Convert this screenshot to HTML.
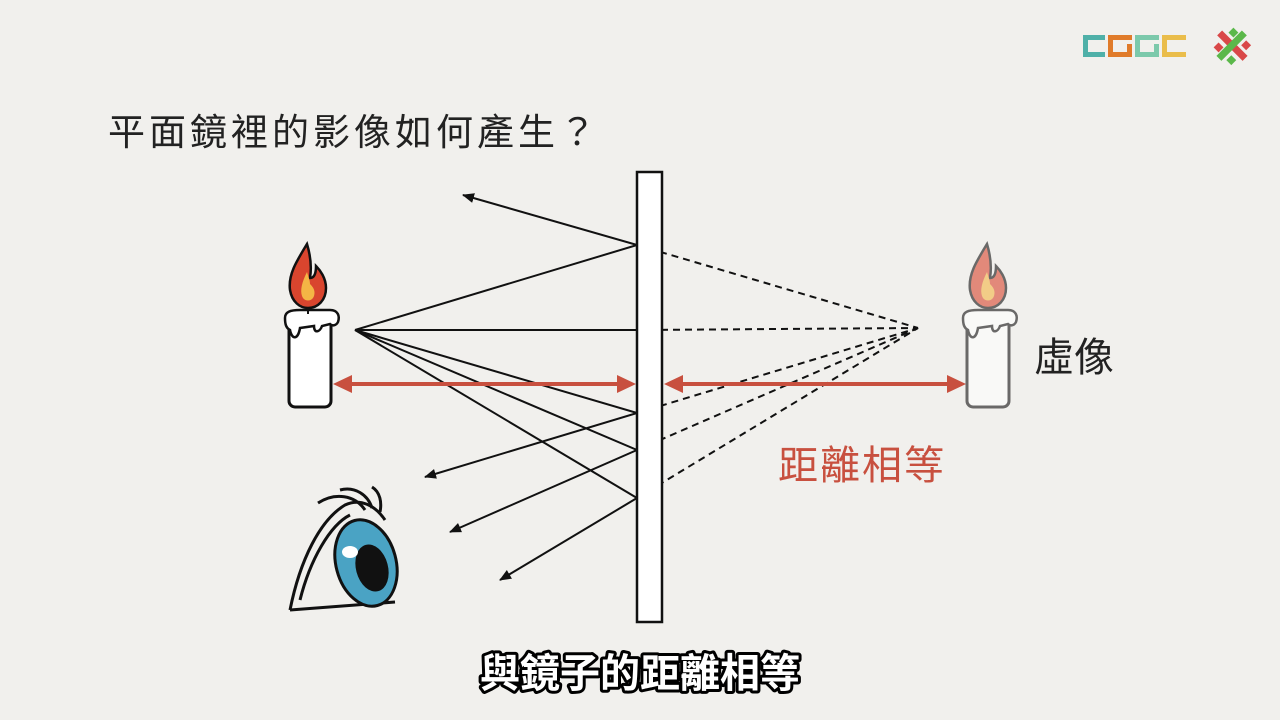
<!DOCTYPE html>
<html><head><meta charset="utf-8"><style>
html,body{margin:0;padding:0;background:#f1f0ed;}
svg{display:block}
text{font-family:"Liberation Sans","Noto Sans CJK TC",sans-serif}
</style></head><body>
<svg width="1280" height="720" viewBox="0 0 1280 720" xmlns="http://www.w3.org/2000/svg">
<defs>
<marker id="ah" markerWidth="12" markerHeight="10" refX="11" refY="5" orient="auto" markerUnits="userSpaceOnUse"><path d="M0,0 L12,5 L0,10 Z" fill="#111"/></marker>
</defs>
<rect width="1280" height="720" fill="#f1f0ed"/>
<g>
<rect x="1083" y="35" width="22" height="5" fill="#4fb0a8"/><rect x="1083" y="35" width="5" height="22" fill="#4fb0a8"/><rect x="1083" y="52" width="22" height="5" fill="#4fb0a8"/>
<rect x="1108" y="35" width="24" height="5" fill="#e07b2a"/><rect x="1108" y="40" width="5" height="17" fill="#e07b2a"/><rect x="1108" y="52" width="24" height="5" fill="#e07b2a"/><rect x="1127" y="44" width="5" height="10" fill="#e07b2a"/>
<rect x="1135" y="35" width="24" height="5" fill="#7cc9ab"/><rect x="1135" y="40" width="5" height="17" fill="#7cc9ab"/><rect x="1135" y="52" width="24" height="5" fill="#7cc9ab"/><rect x="1154" y="44" width="5" height="10" fill="#7cc9ab"/>
<rect x="1162" y="35" width="24" height="5" fill="#eabd4b"/><rect x="1162" y="35" width="5" height="22" fill="#eabd4b"/><rect x="1162" y="52" width="24" height="5" fill="#eabd4b"/>
<g transform="translate(1232,46) rotate(45)">
<rect x="-18" y="-4" width="36" height="7" fill="#d94848"/><rect x="-4" y="-18" width="7" height="36" fill="#5bb84a"/>
<rect x="-12" y="-14" width="7" height="7" fill="#5bb84a"/><rect x="6" y="7" width="7" height="7" fill="#5bb84a"/>
<rect x="6" y="-14" width="7" height="7" fill="#d94848"/><rect x="-12" y="7" width="7" height="7" fill="#d94848"/>
</g>
</g>
<text x="108" y="145" font-size="37" letter-spacing="4" fill="#222">平面鏡裡的影像如何產生？</text>
<g stroke="#111" stroke-width="2" fill="none">
<line x1="355" y1="330" x2="637" y2="245"/>
<line x1="355" y1="330" x2="637" y2="330"/>
<line x1="355" y1="330" x2="637" y2="413"/>
<line x1="355" y1="330" x2="637" y2="450"/>
<line x1="355" y1="330" x2="637" y2="498"/>
<line x1="637" y1="245" x2="463" y2="195" marker-end="url(#ah)"/>
<line x1="637" y1="413" x2="425" y2="477" marker-end="url(#ah)"/>
<line x1="637" y1="450" x2="450" y2="532" marker-end="url(#ah)"/>
<line x1="637" y1="498" x2="500" y2="580" marker-end="url(#ah)"/>
<g stroke-dasharray="7,5">
<line x1="637" y1="245" x2="918" y2="328"/>
<line x1="637" y1="330" x2="918" y2="328"/>
<line x1="637" y1="413" x2="918" y2="328"/>
<line x1="637" y1="450" x2="918" y2="328"/>
<line x1="637" y1="498" x2="918" y2="328"/>
</g>
</g>
<rect x="637" y="172" width="25" height="450" fill="#fff" stroke="#111" stroke-width="2.5"/>
<g stroke="#c8503f" stroke-width="4">
<line x1="345" y1="384" x2="625" y2="384"/>
<line x1="675" y1="384" x2="955" y2="384"/>
</g>
<path d="M333,384 L352,375 L352,393 Z M636,384 L617,375 L617,393 Z M664,384 L683,375 L683,393 Z M966,384 L947,375 L947,393 Z" fill="#c8503f"/>
<g>
<path d="M307,244 C296,262 288,275 290,290 C292,302 300,308 308,308 C318,308 326,300 326,288 C326,278 320,270 316,266 C316,274 314,278 310,278 C312,266 310,254 307,244 Z" fill="#d9452e" stroke="#111" stroke-width="2.5"/>
<path d="M307,272 C302,282 300,290 302,296 C304,302 312,302 314,296 C316,290 312,286 310,284 C310,280 308,276 307,272 Z" fill="#f4b545"/>
<rect x="289" y="315" width="42" height="92" rx="6" fill="#fff" stroke="#111" stroke-width="3"/>
<path d="M285,318 C285,312 290,310 300,310 L330,310 C338,310 340,316 338,322 C336,326 332,326 330,324 L322,326 C320,332 314,334 314,326 L300,328 C298,340 292,340 290,330 C286,328 285,324 285,318 Z" fill="#fff" stroke="#111" stroke-width="2.5"/>
<line x1="308" y1="308" x2="308" y2="314" stroke="#111" stroke-width="2"/>
</g>
<g opacity="0.6">
<path d="M987,244 C976,262 968,275 970,290 C972,302 980,308 988,308 C998,308 1006,300 1006,288 C1006,278 1000,270 996,266 C996,274 994,278 990,278 C992,266 990,254 987,244 Z" fill="#d9452e" stroke="#111" stroke-width="2.5"/>
<path d="M987,272 C982,282 980,290 982,296 C984,302 992,302 994,296 C996,290 992,286 990,284 C990,280 988,276 987,272 Z" fill="#f4b545"/>
<rect x="967" y="315" width="42" height="92" rx="6" fill="#fff" stroke="#111" stroke-width="3"/>
<path d="M963,318 C963,312 968,310 978,310 L1008,310 C1016,310 1018,316 1016,322 C1014,326 1010,326 1008,324 L1000,326 C998,332 992,334 992,326 L978,328 C976,340 970,340 968,330 C964,328 963,324 963,318 Z" fill="#fff" stroke="#111" stroke-width="2.5"/>
</g>
<text x="1034" y="371" font-size="40" fill="#222">虛像</text>
<text x="778" y="479" font-size="40" letter-spacing="2" fill="#c8503f">距離相等</text>
<g stroke="#111" stroke-width="3" fill="none">
<path d="M290,610 C300,560 320,520 345,505 C360,498 375,505 385,520"/>
<path d="M290,610 L395,602"/>
<path d="M300,600 C310,560 330,525 350,515"/>
<path d="M318,503 C335,492 355,495 365,510"/>
<path d="M340,490 C355,486 368,495 372,508"/>
<path d="M372,487 C380,492 382,502 380,512"/>
<ellipse cx="366" cy="563" rx="30" ry="44" transform="rotate(-15 366 563)" fill="#4aa3c4"/>
<ellipse cx="372" cy="568" rx="16" ry="24" transform="rotate(-15 372 568)" fill="#111" stroke="none"/>
<ellipse cx="350" cy="552" rx="8" ry="6" fill="#fff" stroke="none"/>
</g>
<text x="640" y="687" font-size="40" font-weight="bold" text-anchor="middle" fill="#fff" stroke="#000" stroke-width="6" paint-order="stroke" stroke-linejoin="round">與鏡子的距離相等</text>
</svg>
</body></html>
